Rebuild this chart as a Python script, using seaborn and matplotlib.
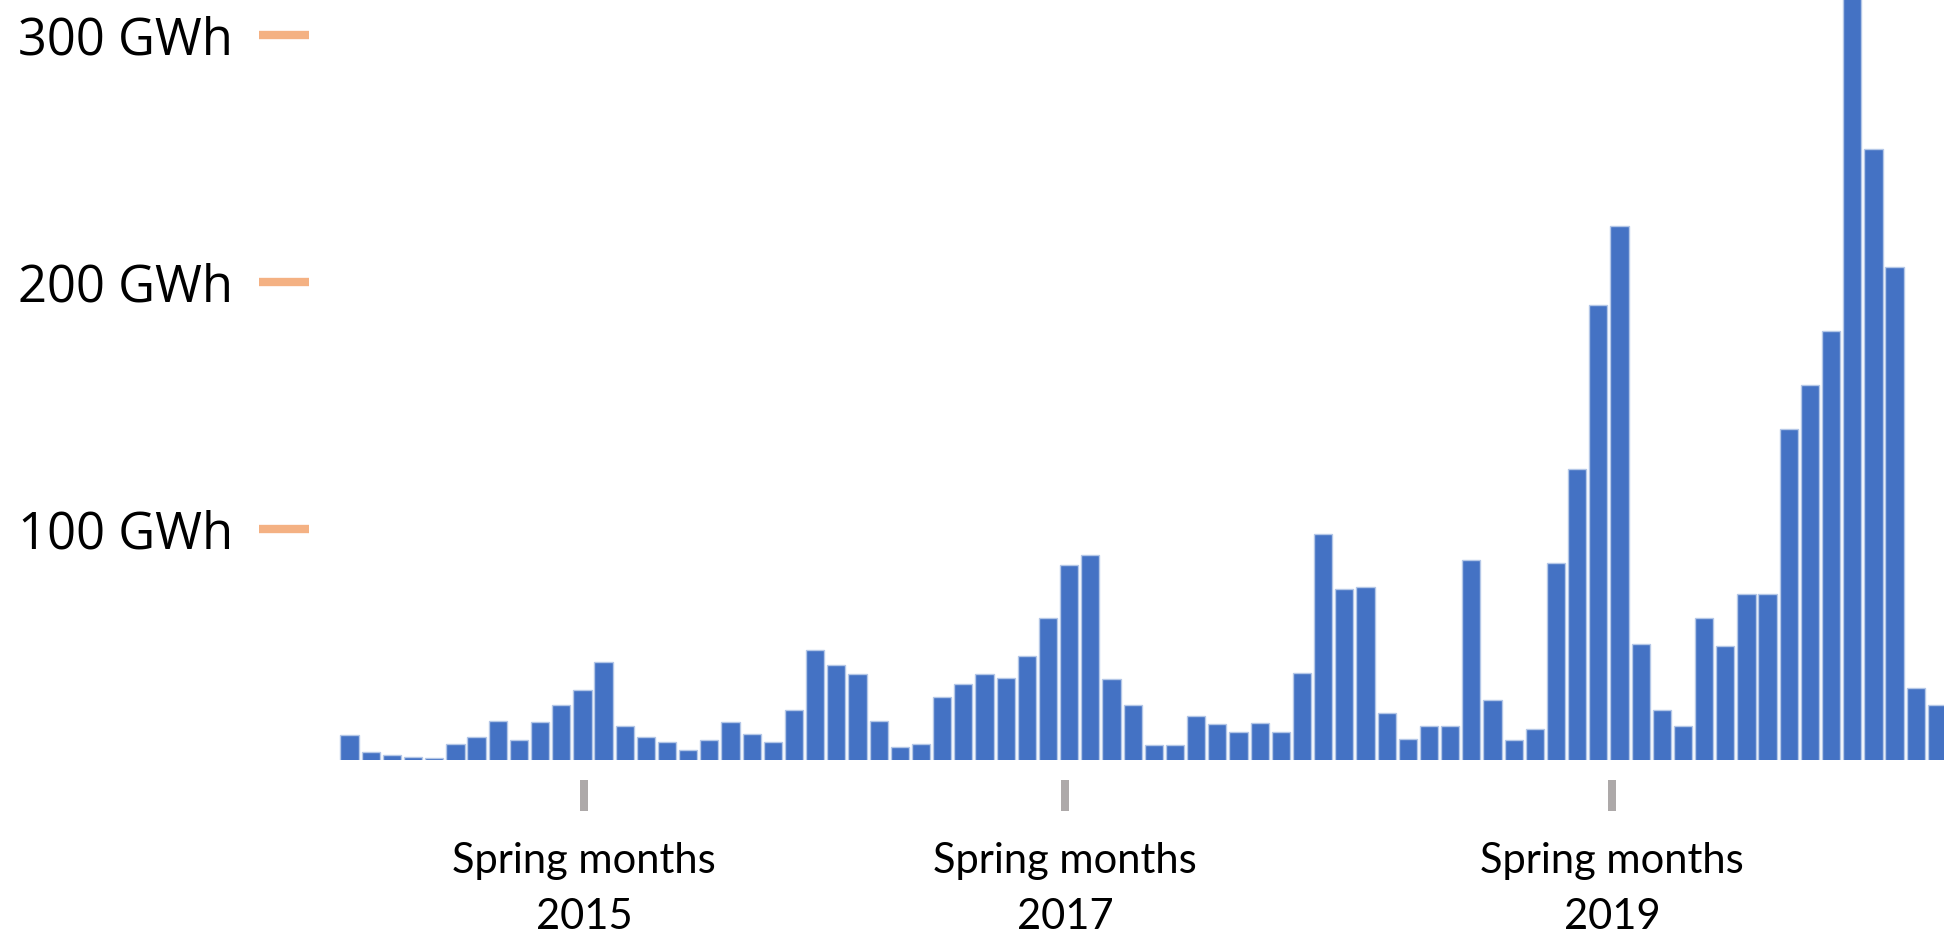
import matplotlib
matplotlib.use("Agg")
import matplotlib.pyplot as plt
import pandas as pd
import seaborn as sns

# ---- data ----
months = pd.date_range("2014-05-01", periods=76, freq="MS").strftime("%Y-%m").tolist()
energy_gwh = [16.7, 10.0, 8.7, 8.0, 7.4, 13.3, 15.9, 22.4, 14.6, 21.9,
              28.8, 34.9, 46.4, 20.4, 15.9, 13.8, 10.7, 14.6, 21.9, 17.2,
              14.0, 27.0, 51.0, 45.2, 41.3, 22.4, 12.1, 13.3, 32.1, 37.4,
              41.3, 40.0, 48.6, 64.1, 85.6, 89.6, 39.3, 28.9, 12.6, 12.6,
              24.3, 21.1, 17.9, 21.8, 17.9, 42.0, 98.1, 75.8, 76.5, 25.7,
              15.2, 20.4, 20.4, 87.5, 30.8, 14.6, 19.1, 86.2, 124.5, 190.5,
              222.5, 53.5, 26.8, 20.3, 64.0, 52.9, 73.8, 73.8, 140.4, 158.5,
              180.0, 330.0, 253.7, 206.0, 35.8, 28.8]
y_tick_values = [100, 200, 300]
y_tick_labels = ["100 GWh", "200 GWh", "300 GWh"]
x_tick_labels = ["Spring months\n2015", "Spring months\n2017", "Spring months\n2019"]

df = pd.DataFrame({"month": months, "energy": energy_gwh})

# ---- style ----
sns.set_style("white")
plt.rcParams["font.family"] = ["Open Sans", "DejaVu Sans"]

fig = plt.figure(figsize=(19.44, 9.34), dpi=100)
ax = fig.add_axes([309 / 1944, (934 - 760) / 934, (1944 - 309) / 1944, 760 / 934])

sns.barplot(data=df, x="month", y="energy", color="#4472C4", saturation=1,
            width=0.86, edgecolor="#B4C7E7", linewidth=1.0, ax=ax)

ax.set_xlim(-1.918, 75.335)
ax.set_ylim(6.7, 314.0)

for s in ax.spines.values():
    s.set_visible(False)
ax.spines["bottom"].set_position(("outward", 14.4))

ax.set_yticks(y_tick_values)
ax.set_yticklabels(y_tick_labels)
ax.tick_params(axis="y", left=True, direction="out", length=36, width=6,
               color="#F4B183", pad=18.7, labelsize=36.5, labelcolor="black")

ax.set_xticks([11.08, 33.8, 59.65])
ax.set_xticklabels(x_tick_labels, fontfamily=["Lato", "DejaVu Sans"], fontsize=30,
                   linespacing=1.58)
ax.tick_params(axis="x", bottom=True, direction="out", length=22.3, width=5.76,
               color="#ADA9A9", pad=22, labelcolor="black")

ax.set_xlabel("")
ax.set_ylabel("")
ax.grid(False)

fig.savefig("out.png", dpi=100)
